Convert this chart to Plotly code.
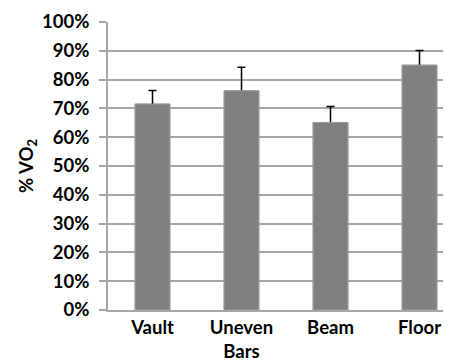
import plotly.graph_objects as go

categories = ["Vault", "Uneven<br>Bars", "Beam", "Floor"]
values = [71.5, 76.1, 65.1, 85.0]
errors = [4.7, 8.2, 5.6, 5.1]
y_ticks = [0, 10, 20, 30, 40, 50, 60, 70, 80, 90, 100]
y_tick_labels = [f"{v}%" for v in y_ticks]

xs = list(range(len(categories)))
bar_marker = dict(color="#808080", line=dict(color="#9a9a9a", width=1))

fig = go.Figure()
fig.add_trace(go.Bar(
    x=xs, y=values, width=0.39, marker=bar_marker,
    error_y=dict(type="data", symmetric=True, array=errors,
                 color="#000000", thickness=1.5, width=4),
))
fig.add_trace(go.Bar(x=xs, y=values, width=0.39, marker=bar_marker, hoverinfo="skip"))

fnt = dict(family="Lato", size=18.5, color="#000000", weight="bold")

# page body has an 8px margin, so the figure is made 8px smaller and shifted
fig.update_layout(
    width=443, height=352,
    margin=dict(l=100, r=0, t=14, b=50),
    paper_bgcolor="white", plot_bgcolor="white",
    showlegend=False,
    barmode="overlay",
    font=fnt,
)
fig.update_xaxes(
    range=[-0.5, -0.5 + 343/89], automargin=False,
    tickmode="array", tickvals=xs, ticktext=categories,
    tickfont=fnt,
    showline=True, linecolor="#a6a6a6", linewidth=2,
    showgrid=False, ticks="", ticklabelstandoff=0,
    zeroline=False,
)
fig.update_yaxes(
    range=[0, 100], automargin=False,
    tickmode="array", tickvals=y_ticks, ticktext=y_tick_labels,
    tickfont=fnt,
    showline=True, linecolor="#a6a6a6", linewidth=2,
    showgrid=True, gridcolor="#a6a6a6", gridwidth=1.5,
    ticks="outside", ticklen=7, tickcolor="#a6a6a6", tickwidth=1.5,
    ticklabelstandoff=6,
    zeroline=False,
    title=dict(text="% VO<sub>2</sub>", font=fnt, standoff=3),
)

fig.write_html("out.html")
